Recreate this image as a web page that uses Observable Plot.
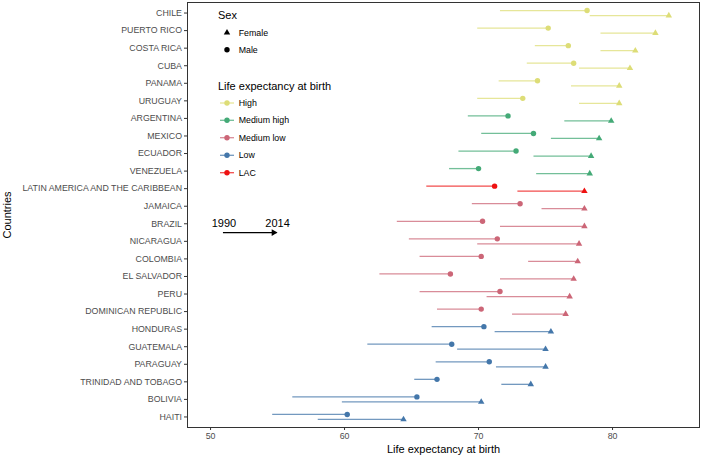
<!DOCTYPE html>
<html>
<head>
<meta charset="utf-8">
<script src="https://cdn.jsdelivr.net/npm/d3@7"></script>
<script src="https://cdn.jsdelivr.net/npm/@observablehq/plot@0.6"></script>
<style>
  html, body { margin: 0; padding: 0; background: white; }
  #wrap { position: relative; width: 703px; height: 455px; font-family: "Liberation Sans", Arial, sans-serif; }
  #legend { position: absolute; left: 0; top: 0; pointer-events: none; }
  g[aria-label="x-axis label"] text, g[aria-label="x-axis label"],
  g[aria-label="y-axis label"] text, g[aria-label="y-axis label"] { fill: #000; font-size: 11px; }
</style>
</head>
<body>
<div id="wrap"></div>
<script>
// ---- data (top to bottom as shown) ----
const countries = ["CHILE","PUERTO RICO","COSTA RICA","CUBA","PANAMA","URUGUAY","ARGENTINA","MEXICO","ECUADOR","VENEZUELA","LATIN AMERICA AND THE CARIBBEAN","JAMAICA","BRAZIL","NICARAGUA","COLOMBIA","EL SALVADOR","PERU","DOMINICAN REPUBLIC","HONDURAS","GUATEMALA","PARAGUAY","TRINIDAD AND TOBAGO","BOLIVIA","HAITI"];
const groups = ["High","High","High","High","High","High","Medium high","Medium high","Medium high","Medium high","LAC","Medium low","Medium low","Medium low","Medium low","Medium low","Medium low","Medium low","Low","Low","Low","Low","Low","Low"];
const male1990   = [71.6, 69.9, 74.2, 73.6, 71.5, 69.9, 69.2, 70.2, 68.5, 67.8, 66.1, 69.5, 63.9, 64.8, 65.6, 62.6, 65.6, 66.9, 66.5, 61.7, 66.8, 65.2, 56.1, 54.6];
const male2014   = [78.1, 75.2, 76.7, 77.1, 74.4, 73.3, 72.2, 74.1, 72.8, 70.0, 71.2, 73.1, 70.3, 71.4, 70.2, 67.9, 71.6, 70.2, 70.4, 68.0, 70.8, 66.9, 65.4, 60.2];
const female1990 = [78.3, 79.1, 79.1, 77.5, 76.9, 77.5, 76.4, 75.4, 74.1, 74.3, 72.9, 74.7, 71.6, 69.9, 73.7, 71.6, 70.6, 72.5, 71.2, 68.4, 71.3, 71.7, 59.8, 58.0];
const female2014 = [84.2, 83.2, 81.7, 81.3, 80.5, 80.5, 79.9, 79.0, 78.4, 78.3, 77.9, 77.9, 77.9, 77.5, 77.4, 77.1, 76.8, 76.5, 75.4, 75.0, 75.0, 73.9, 70.2, 64.4];
const groupNames  = ["High","Medium high","Medium low","Low","LAC"];
const groupColors = ["#DDDD77","#44AA77","#CC6677","#4477AA","#EE1111"];
const xTicks = [50, 60, 70, 80];
const sexLabels = ["Female","Male"];
const annoYears = ["1990","2014"];
const annoX = [51, 55];
const annoTextRow = 12;   // row index (from bottom) for year labels
const annoArrowRow = 11.5;

const n = countries.length;
const rows = countries.map((c, i) => ({
  country: c, idx: n - i, group: groups[i],
  m90: male1990[i], m14: male2014[i], f90: female1990[i], f14: female2014[i]
}));
const anno = annoYears.map((t, i) => ({text: t, x: annoX[i], y: annoTextRow}));
const arrow = [{x1: annoX[0], x2: annoX[1], y: annoArrowRow}];

const chart = Plot.plot({
  width: 703, height: 455,
  marginLeft: 187, marginRight: 4, marginTop: 2, marginBottom: 28,
  style: {fontFamily: "'Liberation Sans', Arial, sans-serif", fontSize: "8.8px", background: "white", color: "#4D4D4D"},
  x: {domain: [48.28, 86.49]},
  y: {domain: [0.4, n + 0.6]},
  color: {domain: groupNames, range: groupColors},
  marks: [
    Plot.frame({stroke: "#333333", strokeWidth: 1}),
    Plot.axisX({ticks: xTicks, tickSize: 3, tickPadding: 2, stroke: "#333333", fill: "#4D4D4D",
      label: "Life expectancy at birth", labelAnchor: "center", labelOffset: 25.5, labelArrow: "none"}),
    Plot.axisY({ticks: rows.map(d => d.idx), tickFormat: i => countries[n - i], tickSize: 3, tickPadding: 2.5,
      stroke: "#333333", fill: "#4D4D4D",
      label: "Countries", labelAnchor: "center", labelOffset: 184, labelArrow: "none"}),
    Plot.link(rows, {x1: "m90", x2: "m14", y1: "idx", y2: "idx", dy: -2.5, stroke: "group", strokeWidth: 1.3, strokeOpacity: 0.75}),
    Plot.link(rows, {x1: "f90", x2: "f14", y1: "idx", y2: "idx", dy: 2.5, stroke: "group", strokeWidth: 1.3, strokeOpacity: 0.75}),
    Plot.dot(rows, {x: "m14", y: "idx", dy: -2.5, fill: "group", r: 2.7, symbol: "circle"}),
    Plot.dot(rows, {x: "f14", y: "idx", dy: 2.5, fill: "group", r: 2.4, symbol: "triangle"}),
    Plot.link(arrow, {x1: "x1", x2: "x2", y1: "y", y2: "y", stroke: "black", strokeWidth: 1.3, dx: -1}),
    Plot.dot(arrow, {x: "x2", y: "y", symbol: "triangle", rotate: 90, r: 2.5, fill: "black", dx: -3.9}),
    Plot.text(anno, {x: "x", y: "y", text: "text", fill: "black", fontSize: 11})
  ]
});
const wrap = document.getElementById("wrap");
wrap.appendChild(chart);

// ---- legend overlay (inside panel, top-left) ----
const lg = d3.select(wrap).append("svg").attr("id", "legend").attr("width", 703).attr("height", 455)
  .style("font-family", "'Liberation Sans', Arial, sans-serif");
lg.append("text").attr("x", 218).attr("y", 15).attr("dy", "0.35em").attr("font-size", 11).attr("fill", "#000").text("Sex");
const sexY = [32.7, 49.7];
sexLabels.forEach((s, i) => {
  const sym = s === "Female" ? d3.symbolTriangle : d3.symbolCircle;
  const size = s === "Female" ? Math.PI * 2.4 * 2.4 : Math.PI * 2.7 * 2.7;
  lg.append("path").attr("d", d3.symbol(sym, size)()).attr("transform", `translate(227,${sexY[i]})`).attr("fill", "#000");
  lg.append("text").attr("x", 238.7).attr("y", sexY[i]).attr("dy", "0.35em").attr("font-size", 8.8).attr("fill", "#000").text(s);
});
lg.append("text").attr("x", 218).attr("y", 86).attr("dy", "0.35em").attr("font-size", 11).attr("fill", "#000").text("Life expectancy at birth");
const legY = [103, 120.3, 137.7, 155.3, 172.7];
groupNames.forEach((g, i) => {
  lg.append("line").attr("x1", 220).attr("x2", 234).attr("y1", legY[i]).attr("y2", legY[i])
    .attr("stroke", groupColors[i]).attr("stroke-width", 1.3).attr("stroke-opacity", 0.75);
  lg.append("circle").attr("cx", 227).attr("cy", legY[i]).attr("r", 2.7).attr("fill", groupColors[i]);
  lg.append("text").attr("x", 238.7).attr("y", legY[i]).attr("dy", "0.35em").attr("font-size", 8.8).attr("fill", "#000").text(g);
});
</script>
</body>
</html>
